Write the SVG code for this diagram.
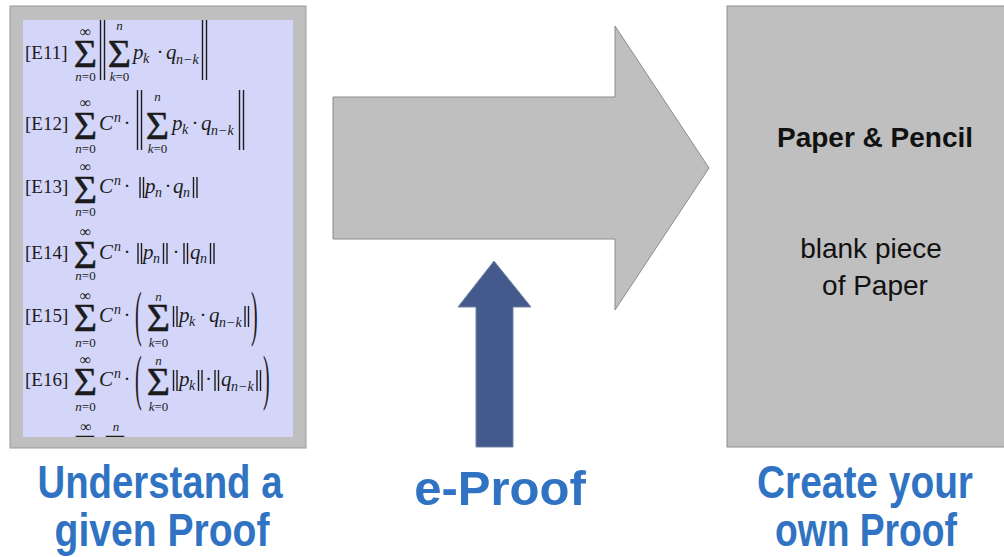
<svg xmlns="http://www.w3.org/2000/svg" width="1004" height="557" viewBox="0 0 1004 557">
<style>
.m{font-family:"Liberation Serif","Times New Roman",serif;fill:#1c1c1c}
.lb{font-size:19px}
.sg{font-size:40px;text-anchor:middle;stroke:#1c1c1c;stroke-width:0.5}
.lm{font-size:13px;text-anchor:middle}
.inf{font-size:16px;text-anchor:middle}
.v{font-size:21px;font-style:italic}
.c{font-size:21px;text-anchor:middle}
.sb{font-size:14px;font-style:italic}
.it{font-style:italic}
.bar{stroke:#1c1c1c;stroke-width:1.4}
.big{font-family:"Liberation Sans",Arial,sans-serif;font-weight:bold;fill:#2f73c2;text-anchor:middle}
.pp{font-family:"Liberation Sans",Arial,sans-serif;fill:#111;font-size:28px;text-anchor:middle}
</style>
<defs>
<clipPath id="inner"><rect x="23" y="20" width="270" height="417"/></clipPath>
</defs>
<rect width="1004" height="557" fill="#ffffff"/>

<g id="proof-box">
<rect x="10" y="6" width="296" height="442" fill="#bfbfbf" stroke="#9a9a9a"/>
<rect x="23" y="20" width="270" height="417" fill="#d3d6f9"/>
<g clip-path="url(#inner)" class="m">
<!-- E11 -->
<text class="m lb" x="25" y="59">[E11]</text>
<text class="m sg" x="85.5" y="67">Σ</text>
<text class="m inf" x="85.5" y="37">∞</text>
<text class="m lm" x="85.5" y="81"><tspan class="it">n</tspan>=0</text>
<line class="bar" x1="100.5" y1="20" x2="100.5" y2="80"/>
<line class="bar" x1="104.5" y1="20" x2="104.5" y2="80"/>
<text class="m sg" x="119.5" y="67">Σ</text>
<text class="m lm it" x="119.5" y="30">n</text>
<text class="m lm" x="119.5" y="81"><tspan class="it">k</tspan>=0</text>
<text class="m v" x="133" y="59">p</text>
<text class="m sb" x="143" y="63">k</text>
<text class="m c" x="160" y="59">·</text>
<text class="m v" x="166" y="59">q</text>
<text class="m sb" x="176" y="64">n−k</text>
<line class="bar" x1="202.5" y1="20" x2="202.5" y2="80"/>
<line class="bar" x1="206.5" y1="20" x2="206.5" y2="80"/>

<!-- E12 -->
<text class="m lb" x="25" y="130">[E12]</text>
<text class="m sg" x="85.5" y="139">Σ</text>
<text class="m inf" x="85.5" y="108">∞</text>
<text class="m lm" x="85.5" y="153"><tspan class="it">n</tspan>=0</text>
<text class="m v" x="99" y="130">C</text>
<text class="m sb" x="114" y="122">n</text>
<text class="m c" x="127" y="130">·</text>
<line class="bar" x1="137.5" y1="90" x2="137.5" y2="150"/>
<line class="bar" x1="141.5" y1="90" x2="141.5" y2="150"/>
<text class="m sg" x="157.5" y="139">Σ</text>
<text class="m lm it" x="157.5" y="101">n</text>
<text class="m lm" x="157.5" y="153"><tspan class="it">k</tspan>=0</text>
<text class="m v" x="172" y="130">p</text>
<text class="m sb" x="182" y="134">k</text>
<text class="m c" x="195" y="130">·</text>
<text class="m v" x="201" y="130">q</text>
<text class="m sb" x="211" y="135">n−k</text>
<line class="bar" x1="239.5" y1="90" x2="239.5" y2="150"/>
<line class="bar" x1="243.5" y1="90" x2="243.5" y2="150"/>

<!-- E13 -->
<text class="m lb" x="25" y="193">[E13]</text>
<text class="m sg" x="85.5" y="203">Σ</text>
<text class="m inf" x="85.5" y="172">∞</text>
<text class="m lm" x="85.5" y="216"><tspan class="it">n</tspan>=0</text>
<text class="m v" x="99" y="193">C</text>
<text class="m sb" x="114" y="185">n</text>
<text class="m c" x="127" y="193">·</text>
<line class="bar" x1="140" y1="177" x2="140" y2="198"/>
<line class="bar" x1="143.5" y1="177" x2="143.5" y2="198"/>
<text class="m v" x="145" y="193">p</text>
<text class="m sb" x="155" y="197">n</text>
<text class="m c" x="168" y="193">·</text>
<text class="m v" x="173" y="193">q</text>
<text class="m sb" x="183" y="197">n</text>
<line class="bar" x1="193.5" y1="177" x2="193.5" y2="198"/>
<line class="bar" x1="197" y1="177" x2="197" y2="198"/>

<!-- E14 -->
<text class="m lb" x="25" y="259">[E14]</text>
<text class="m sg" x="85.5" y="268">Σ</text>
<text class="m inf" x="85.5" y="237">∞</text>
<text class="m lm" x="85.5" y="280"><tspan class="it">n</tspan>=0</text>
<text class="m v" x="99" y="259">C</text>
<text class="m sb" x="114" y="251">n</text>
<text class="m c" x="127" y="259">·</text>
<line class="bar" x1="138" y1="243" x2="138" y2="264"/>
<line class="bar" x1="141.5" y1="243" x2="141.5" y2="264"/>
<text class="m v" x="143" y="259">p</text>
<text class="m sb" x="153" y="263">n</text>
<line class="bar" x1="163.5" y1="243" x2="163.5" y2="264"/>
<line class="bar" x1="167" y1="243" x2="167" y2="264"/>
<text class="m c" x="176" y="259">·</text>
<line class="bar" x1="184" y1="243" x2="184" y2="264"/>
<line class="bar" x1="187.5" y1="243" x2="187.5" y2="264"/>
<text class="m v" x="190" y="259">q</text>
<text class="m sb" x="200" y="263">n</text>
<line class="bar" x1="210.5" y1="243" x2="210.5" y2="264"/>
<line class="bar" x1="214" y1="243" x2="214" y2="264"/>

<!-- E15 -->
<text class="m lb" x="25" y="322">[E15]</text>
<text class="m sg" x="85.5" y="331">Σ</text>
<text class="m inf" x="85.5" y="301">∞</text>
<text class="m lm" x="85.5" y="347"><tspan class="it">n</tspan>=0</text>
<text class="m v" x="99" y="322">C</text>
<text class="m sb" x="114" y="314">n</text>
<text class="m c" x="127" y="322">·</text>
<text class="m" font-size="20" transform="translate(135,334) scale(1,3.05)">(</text>
<text class="m sg" x="158.5" y="331">Σ</text>
<text class="m lm it" x="158.5" y="301">n</text>
<text class="m lm" x="158.5" y="347"><tspan class="it">k</tspan>=0</text>
<line class="bar" x1="173.5" y1="306" x2="173.5" y2="327"/>
<line class="bar" x1="177" y1="306" x2="177" y2="327"/>
<text class="m v" x="179" y="322">p</text>
<text class="m sb" x="189" y="326">k</text>
<text class="m c" x="203" y="322">·</text>
<text class="m v" x="209" y="322">q</text>
<text class="m sb" x="219" y="327">n−k</text>
<line class="bar" x1="245" y1="306" x2="245" y2="327"/>
<line class="bar" x1="248.5" y1="306" x2="248.5" y2="327"/>
<text class="m" font-size="20" transform="translate(251,334) scale(1,3.05)">)</text>

<!-- E16 -->
<text class="m lb" x="25" y="386">[E16]</text>
<text class="m sg" x="85.5" y="395">Σ</text>
<text class="m inf" x="85.5" y="365">∞</text>
<text class="m lm" x="85.5" y="411"><tspan class="it">n</tspan>=0</text>
<text class="m v" x="99" y="386">C</text>
<text class="m sb" x="114" y="378">n</text>
<text class="m c" x="127" y="386">·</text>
<text class="m" font-size="20" transform="translate(135,398) scale(1,3.1)">(</text>
<text class="m sg" x="158.5" y="395">Σ</text>
<text class="m lm it" x="158.5" y="365">n</text>
<text class="m lm" x="158.5" y="411"><tspan class="it">k</tspan>=0</text>
<line class="bar" x1="173.5" y1="370" x2="173.5" y2="391"/>
<line class="bar" x1="177" y1="370" x2="177" y2="391"/>
<text class="m v" x="179" y="386">p</text>
<text class="m sb" x="189" y="390">k</text>
<line class="bar" x1="198.5" y1="370" x2="198.5" y2="391"/>
<line class="bar" x1="202" y1="370" x2="202" y2="391"/>
<text class="m c" x="208.5" y="386">·</text>
<line class="bar" x1="215" y1="370" x2="215" y2="391"/>
<line class="bar" x1="218.5" y1="370" x2="218.5" y2="391"/>
<text class="m v" x="221" y="386">q</text>
<text class="m sb" x="231" y="391">n−k</text>
<line class="bar" x1="257" y1="370" x2="257" y2="391"/>
<line class="bar" x1="260.5" y1="370" x2="260.5" y2="391"/>
<text class="m" font-size="20" transform="translate(263,398) scale(1,3.1)">)</text>

<!-- partial row (clipped) -->
<text class="m inf" x="86" y="432">∞</text>
<text class="m sg" x="86" y="462">Σ</text>
<text class="m lm it" x="116" y="431">n</text>
<text class="m sg" x="116" y="462">Σ</text>
</g>
</g>

<g id="connectors">
<polygon id="main-arrow" points="333,97 615,97 615,26 709,168 615,310 615,239 333,239" fill="#bfbfbf" stroke="#8c8c8c" stroke-width="1"/>
<polygon id="eproof-arrow" points="494,261 531,307 513,307 513,447 476,447 476,307 458,307" fill="#455a8c" stroke="#7282a8" stroke-width="1"/>
</g>

<g id="paper-box">
<rect x="727" y="6" width="290" height="441" fill="#bfbfbf" stroke="#8e8e8e"/>
<text class="pp" x="875" y="147" font-weight="bold">Paper &amp; Pencil</text>
<text class="pp" x="871" y="258">blank piece</text>
<text class="pp" x="875" y="295">of Paper</text>
</g>

<g id="label-understand">
<text class="big" font-size="46" x="160" y="498" textLength="245" lengthAdjust="spacingAndGlyphs">Understand a</text>
<text class="big" font-size="46" x="162" y="546" textLength="215" lengthAdjust="spacingAndGlyphs">given Proof</text>
</g>
<g id="label-eproof">
<text class="big" font-size="49" x="500" y="505">e-Proof</text>
</g>
<g id="label-create">
<text class="big" font-size="46" x="865" y="498" textLength="216" lengthAdjust="spacingAndGlyphs">Create your</text>
<text class="big" font-size="46" x="866" y="546" textLength="182" lengthAdjust="spacingAndGlyphs">own Proof</text>
</g>
</svg>
